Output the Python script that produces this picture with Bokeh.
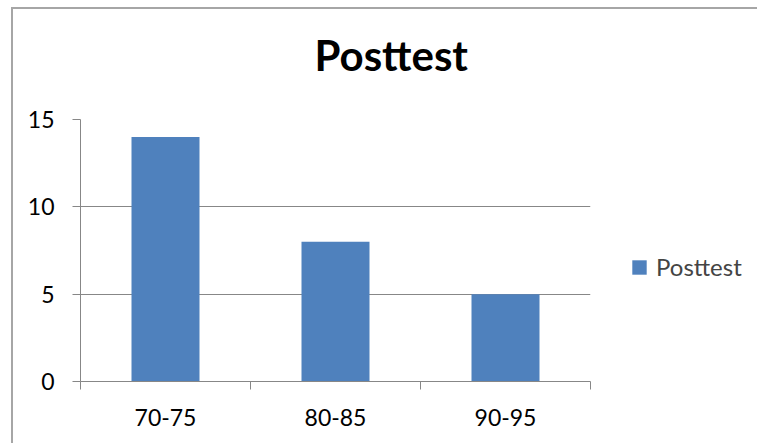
from bokeh.plotting import figure
from bokeh.models import Range1d, FixedTicker, Legend, LegendItem, ColumnDataSource, InlineStyleSheet, Title
from bokeh.embed import file_html
from bokeh.resources import INLINE

categories = ["70-75", "80-85", "90-95"]
values = [14, 8, 5]
y_ticks = [0, 5, 10, 15]
title_text = "Posttest"
series_name = "Posttest"

FONT = "Lato"
GRAY = "#878787"
BAR = "#4F81BD"

x_pos = [i + 0.5 for i in range(len(categories))]
bounds = [float(i) for i in range(len(categories) + 1)]
src = ColumnDataSource(dict(x=x_pos, top=values, cat=categories))

border_css = InlineStyleSheet(css="""
:host::after {
  content: '';
  position: absolute;
  left: 11px; top: 7px; right: -20px; bottom: -20px;
  border-left: 2px solid #A6A6A6;
  border-top: 2px solid #A6A6A6;
  pointer-events: none;
}
:host { position: relative; overflow: hidden; }
""")

p = figure(frame_width=510, frame_height=262, output_backend="svg", toolbar_location=None,
           x_range=Range1d(0, len(categories)), y_range=Range1d(0, 15),
           min_border_left=80, min_border_right=167, min_border_top=119, min_border_bottom=62,
           stylesheets=[border_css])
p.outline_line_color = None
p.background_fill_color = "white"
p.border_fill_color = "white"

r = p.vbar(x="x", top="top", width=0.4, source=src, fill_color=BAR, line_color=None)

# spacer between frame and title
p.add_layout(Title(text=" ", text_font_size="1px", standoff=9), "above")

# title
p.title.text = title_text
p.title.text_font = FONT
p.title.text_font_style = "bold"
p.title.text_font_size = "42px"
p.title.text_color = "black"
p.title.align = "left"
p.title.offset = 234
p.title.vertical_align = "bottom"
p.title.standoff = 55

# axes
p.xaxis.ticker = FixedTicker(ticks=x_pos, minor_ticks=bounds)
p.xaxis.major_label_overrides = {x: c for x, c in zip(x_pos, categories)}
p.xaxis.major_tick_line_color = None
p.xaxis.major_tick_out = 0
p.xaxis.major_tick_in = 0
p.xaxis.minor_tick_line_color = GRAY
p.xaxis.minor_tick_out = 8
p.xaxis.minor_tick_in = 0
p.xaxis.axis_line_color = GRAY
p.xaxis.major_label_standoff = 19
p.xaxis.major_label_text_font = FONT
p.xaxis.major_label_text_font_size = "23px"
p.xaxis.major_label_text_color = "black"

p.yaxis.ticker = FixedTicker(ticks=y_ticks, minor_ticks=[])
p.yaxis.major_tick_line_color = GRAY
p.yaxis.major_tick_out = 8
p.yaxis.major_tick_in = 0
p.yaxis.axis_line_color = GRAY
p.yaxis.major_label_standoff = 18
p.yaxis.major_label_text_font = FONT
p.yaxis.major_label_text_font_size = "23px"
p.yaxis.major_label_text_color = "black"

p.xgrid.visible = False
p.ygrid.ticker = FixedTicker(ticks=y_ticks)
p.ygrid.grid_line_color = GRAY
p.ygrid.grid_line_width = 1

# legend
legend = Legend(items=[LegendItem(label=series_name, renderers=[r])],
                location="left", glyph_width=18, glyph_height=18,
                label_text_font=FONT, label_text_font_size="24px",
                label_standoff=8, padding=10, margin=40, spacing=0,
                title=" ", title_text_font_size="24px", title_standoff=5,
                border_line_color=None, background_fill_alpha=0)
p.add_layout(legend, "right")

open("out.html", "w").write(file_html(p, INLINE))
